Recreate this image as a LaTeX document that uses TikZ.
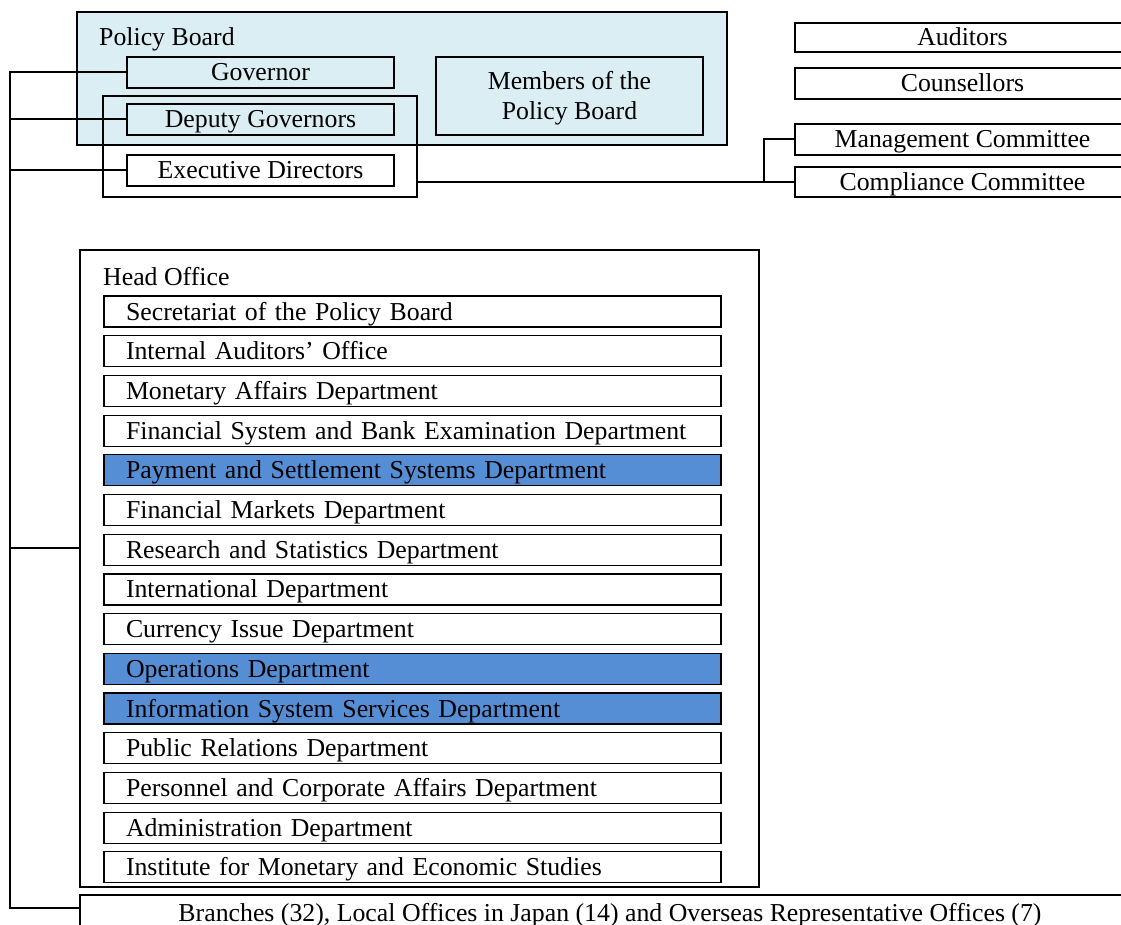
\documentclass[tikz,border=0pt]{standalone}
\usepackage{fontspec}
\setmainfont{Liberation Serif}
\usetikzlibrary{calc}
\definecolor{pbblue}{RGB}{219,238,244}
\definecolor{deptblue}{RGB}{85,142,213}
\begin{document}
\begin{tikzpicture}[x=1pt,y=-1pt,
  every node/.style={font=\fontsize{25.8}{30}\selectfont},
  bigbox/.style={draw, line width=2pt, inner sep=0pt, outer sep=0pt},
  box/.style={draw, line width=2pt, inner sep=0pt, outer sep=0pt, minimum height=31pt,
    text height=19pt, text depth=2pt},
  dept/.style={draw, line width=1.2pt, inner xsep=22pt, inner ysep=0pt, outer sep=0pt,
    text width=573pt, align=left, minimum height=31pt, fill=white,
    text height=19pt, text depth=2pt},
  hidept/.style={dept, fill=deptblue},
  conn/.style={line width=2pt}]
\useasboundingbox (0,0) rectangle (1121,925);
% Policy Board
\node[bigbox, fill=pbblue, minimum width=650pt, minimum height=133pt] (pb) at (402,78.5) {};
\node[anchor=west, inner sep=0pt] (pblabel) at (99,39) {Policy Board};
\node[box, fill=pbblue, minimum width=267pt] (gov) at (260.5,72.5) {Governor};
\node[box, fill=pbblue, minimum width=267pt, minimum height=78pt, text height=, text depth=] (mem) at (569.5,96) {};
\node[align=center, inner sep=0pt] (memtext) at ($(mem.center)+(0,2)$) {Members of the\\Policy Board};
\node[box, fill=pbblue, minimum width=267pt] (dep) at (260.5,119.5) {Deputy Governors};
\node[bigbox, minimum width=314pt, minimum height=101pt] (exo) at (260,146.5) {};
\node[box, fill=white, minimum width=267pt] (exe) at (260.5,170.5) {Executive Directors};
% right column
\node[box, fill=white, minimum width=335pt, minimum height=29pt] (aud) at (962.5,37.5) {Auditors};
\node[box, fill=white, minimum width=335pt] (cou) at (962.5,83.5) {Counsellors};
\node[box, fill=white, minimum width=335pt] (mgt) at (962.5,139.5) {Management Committee};
\node[box, fill=white, minimum width=335pt, minimum height=30pt] (cmp) at (962.5,182) {Compliance Committee};
% Head office
\node[bigbox, minimum width=679pt, minimum height=637pt] (ho) at (419.5,568.5) {};
\node[anchor=west, inner sep=0pt] (holabel) at (103,277) {Head Office};
\foreach \i/\t/\s in {0/Secretariat of the Policy Board/dept,
  1/Internal Auditors’ Office/dept,
  2/Monetary Affairs Department/dept,
  3/Financial System and Bank Examination Department/dept,
  4/Payment and Settlement Systems Department/hidept,
  5/Financial Markets Department/dept,
  6/Research and Statistics Department/dept,
  7/International Department/dept,
  8/Currency Issue Department/dept,
  9/Operations Department/hidept,
  10/Information System Services Department/hidept,
  11/Public Relations Department/dept,
  12/Personnel and Corporate Affairs Department/dept,
  13/Administration Department/dept,
  14/Institute for Monetary and Economic Studies/dept}
  \node[\s] (d\i) at (412.5,{311.5+39.7*\i}) {\t};
% Branches
\node[bigbox, fill=white, minimum width=1060pt, minimum height=36pt, text height=19pt, text depth=2pt] (br) at (610,913) {Branches (32), Local Offices in Japan (14) and Overseas Representative Offices (7)};
% connectors
\coordinate (bustop) at (10,73);
\coordinate (hoin) at ($(ho.west)+(0,-20.5)$);
\coordinate (brin) at ($(br.west)+(0,-5)$);
\draw[conn] (gov.west) -- (gov.west -| bustop) -- (brin -| bustop) -- (brin);
\draw[conn] (dep.west) -- (dep.west -| bustop);
\draw[conn] (exe.west) -- (exe.west -| bustop);
\draw[conn] (hoin) -- (hoin -| bustop);
\draw[conn] (cmp.west) -- (cmp.west -| exo.east);
\draw[conn] (mgt.west) -- ++(-31,0) |- (cmp.west);
\end{tikzpicture}
\end{document}
